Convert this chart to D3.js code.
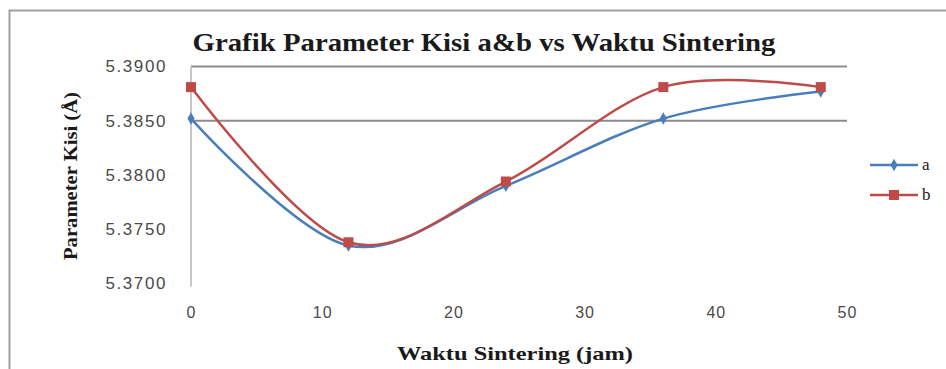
<!DOCTYPE html>
<html>
<head>
<meta charset="utf-8">
<script src="https://cdn.jsdelivr.net/npm/d3@7"></script>
<style>
  html, body { margin: 0; padding: 0; background: #fff; }
  svg { display: block; }
</style>
</head>
<body>
<svg id="chart" width="946" height="369"></svg>
<script>
// Sintering time (hours) and lattice parameters a and b (Å)
const waktu = [0, 12, 24, 36, 48];
const paramA = [5.3852, 5.3735, 5.3790, 5.3852, 5.3877];
const paramB = [5.3881, 5.3738, 5.3794, 5.3881, 5.3881];
const yTicks = [5.3700, 5.3750, 5.3800, 5.3850, 5.3900];
const xTicks = [0, 10, 20, 30, 40, 50];
const gridValues = [5.3850, 5.3900];
const seriesNames = ["a", "b"];

const svg = d3.select("#chart");

// outer frame
svg.append("path")
  .attr("d", "M9.5,400 V10.5 H946")
  .attr("fill", "none")
  .attr("stroke", "#a0a0a0")
  .attr("stroke-width", 2);

const x = d3.scaleLinear().domain([0, 50]).range([191, 847]);
const y = d3.scaleLinear().domain([5.37, 5.39]).range([283.5, 66.5]);

// horizontal gridlines
svg.append("g").selectAll("line").data(gridValues).join("line")
  .attr("x1", x(0)).attr("x2", x(50))
  .attr("y1", d => y(d)).attr("y2", d => y(d))
  .attr("stroke", "#8c8c8c").attr("stroke-width", 2);

// vertical axis line
svg.append("line")
  .attr("x1", x(0)).attr("x2", x(0))
  .attr("y1", y(5.39)).attr("y2", y(5.37) + 3)
  .attr("stroke", "#c8c8c8").attr("stroke-width", 2);

// y axis tick labels
const yAxis = d3.axisLeft(y).tickValues(yTicks).tickFormat(d3.format(".4f")).tickSize(0).tickPadding(24);
const gy = svg.append("g").attr("transform", `translate(${x(0)},0)`).call(yAxis);
gy.select(".domain").remove();
gy.selectAll("text")
  .attr("font-family", "'Liberation Sans', sans-serif")
  .attr("font-size", 17)
  .attr("letter-spacing", 1.6)
  .attr("fill", "#4a4a4a");

// x axis tick labels
const xAxis = d3.axisBottom(x).tickValues(xTicks).tickFormat(d3.format("d")).tickSize(0).tickPadding(23);
const gx = svg.append("g").attr("transform", `translate(0,${y(5.37)})`).call(xAxis);
gx.select(".domain").remove();
gx.selectAll("text")
  .attr("font-family", "'Liberation Sans', sans-serif")
  .attr("font-size", 16)
  .attr("letter-spacing", 1)
  .attr("fill", "#4a4a4a");

// title and axis titles
svg.append("text")
  .attr("x", 484).attr("y", 51)
  .attr("text-anchor", "middle")
  .attr("font-family", "'Liberation Serif', serif")
  .attr("font-weight", "bold")
  .attr("font-size", 26)
  .attr("textLength", 583)
  .attr("lengthAdjust", "spacingAndGlyphs")
  .attr("fill", "#1a1a1a")
  .text("Grafik Parameter Kisi a&b vs Waktu Sintering");

svg.append("text")
  .attr("transform", "translate(77,176) rotate(-90)")
  .attr("text-anchor", "middle")
  .attr("font-family", "'Liberation Serif', serif")
  .attr("font-weight", "bold")
  .attr("font-size", 19)
  .attr("textLength", 168)
  .attr("lengthAdjust", "spacingAndGlyphs")
  .attr("fill", "#1a1a1a")
  .text("Parameter Kisi (Å)");

svg.append("text")
  .attr("x", 515).attr("y", 360)
  .attr("text-anchor", "middle")
  .attr("font-family", "'Liberation Serif', serif")
  .attr("font-weight", "bold")
  .attr("font-size", 19)
  .attr("textLength", 236)
  .attr("lengthAdjust", "spacingAndGlyphs")
  .attr("fill", "#1a1a1a")
  .text("Waktu Sintering (jam)");

const colors = ["#4a7ebb", "#be4b48"];
const seriesData = [paramA, paramB];

const line = d3.line()
  .x(d => x(d[0]))
  .y(d => y(d[1]))
  .curve(d3.curveCardinal.tension(0));

seriesData.forEach((vals, i) => {
  const pts = waktu.map((t, j) => [t, vals[j]]);
  svg.append("path")
    .datum(pts)
    .attr("d", line)
    .attr("fill", "none")
    .attr("stroke", colors[i])
    .attr("stroke-width", 2.5);
});

// markers: diamonds for a, squares for b
svg.append("g").selectAll("path").data(waktu.map((t, j) => [t, paramA[j]])).join("path")
  .attr("d", d3.symbol(d3.symbolDiamond, 45))
  .attr("transform", d => `translate(${x(d[0])},${y(d[1])})`)
  .attr("fill", colors[0]);

svg.append("g").selectAll("rect").data(waktu.map((t, j) => [t, paramB[j]])).join("rect")
  .attr("x", d => x(d[0]) - 5).attr("y", d => y(d[1]) - 5)
  .attr("width", 10).attr("height", 10)
  .attr("fill", colors[1]);

// legend
const legend = svg.append("g");
seriesNames.forEach((name, i) => {
  const ly = 165 + i * 30;
  legend.append("line")
    .attr("x1", 870).attr("x2", 918).attr("y1", ly).attr("y2", ly)
    .attr("stroke", colors[i]).attr("stroke-width", 2.5);
  if (i === 0) {
    legend.append("path")
      .attr("d", d3.symbol(d3.symbolDiamond, 45))
      .attr("transform", `translate(894,${ly})`)
      .attr("fill", colors[i]);
  } else {
    legend.append("rect")
      .attr("x", 889).attr("y", ly - 5).attr("width", 10).attr("height", 10)
      .attr("fill", colors[i]);
  }
  legend.append("text")
    .attr("x", 922).attr("y", ly + 5)
    .attr("font-family", "'Liberation Serif', serif")
    .attr("font-size", 17)
    .attr("fill", "#1a1a1a")
    .text(name);
});
</script>
</body>
</html>
